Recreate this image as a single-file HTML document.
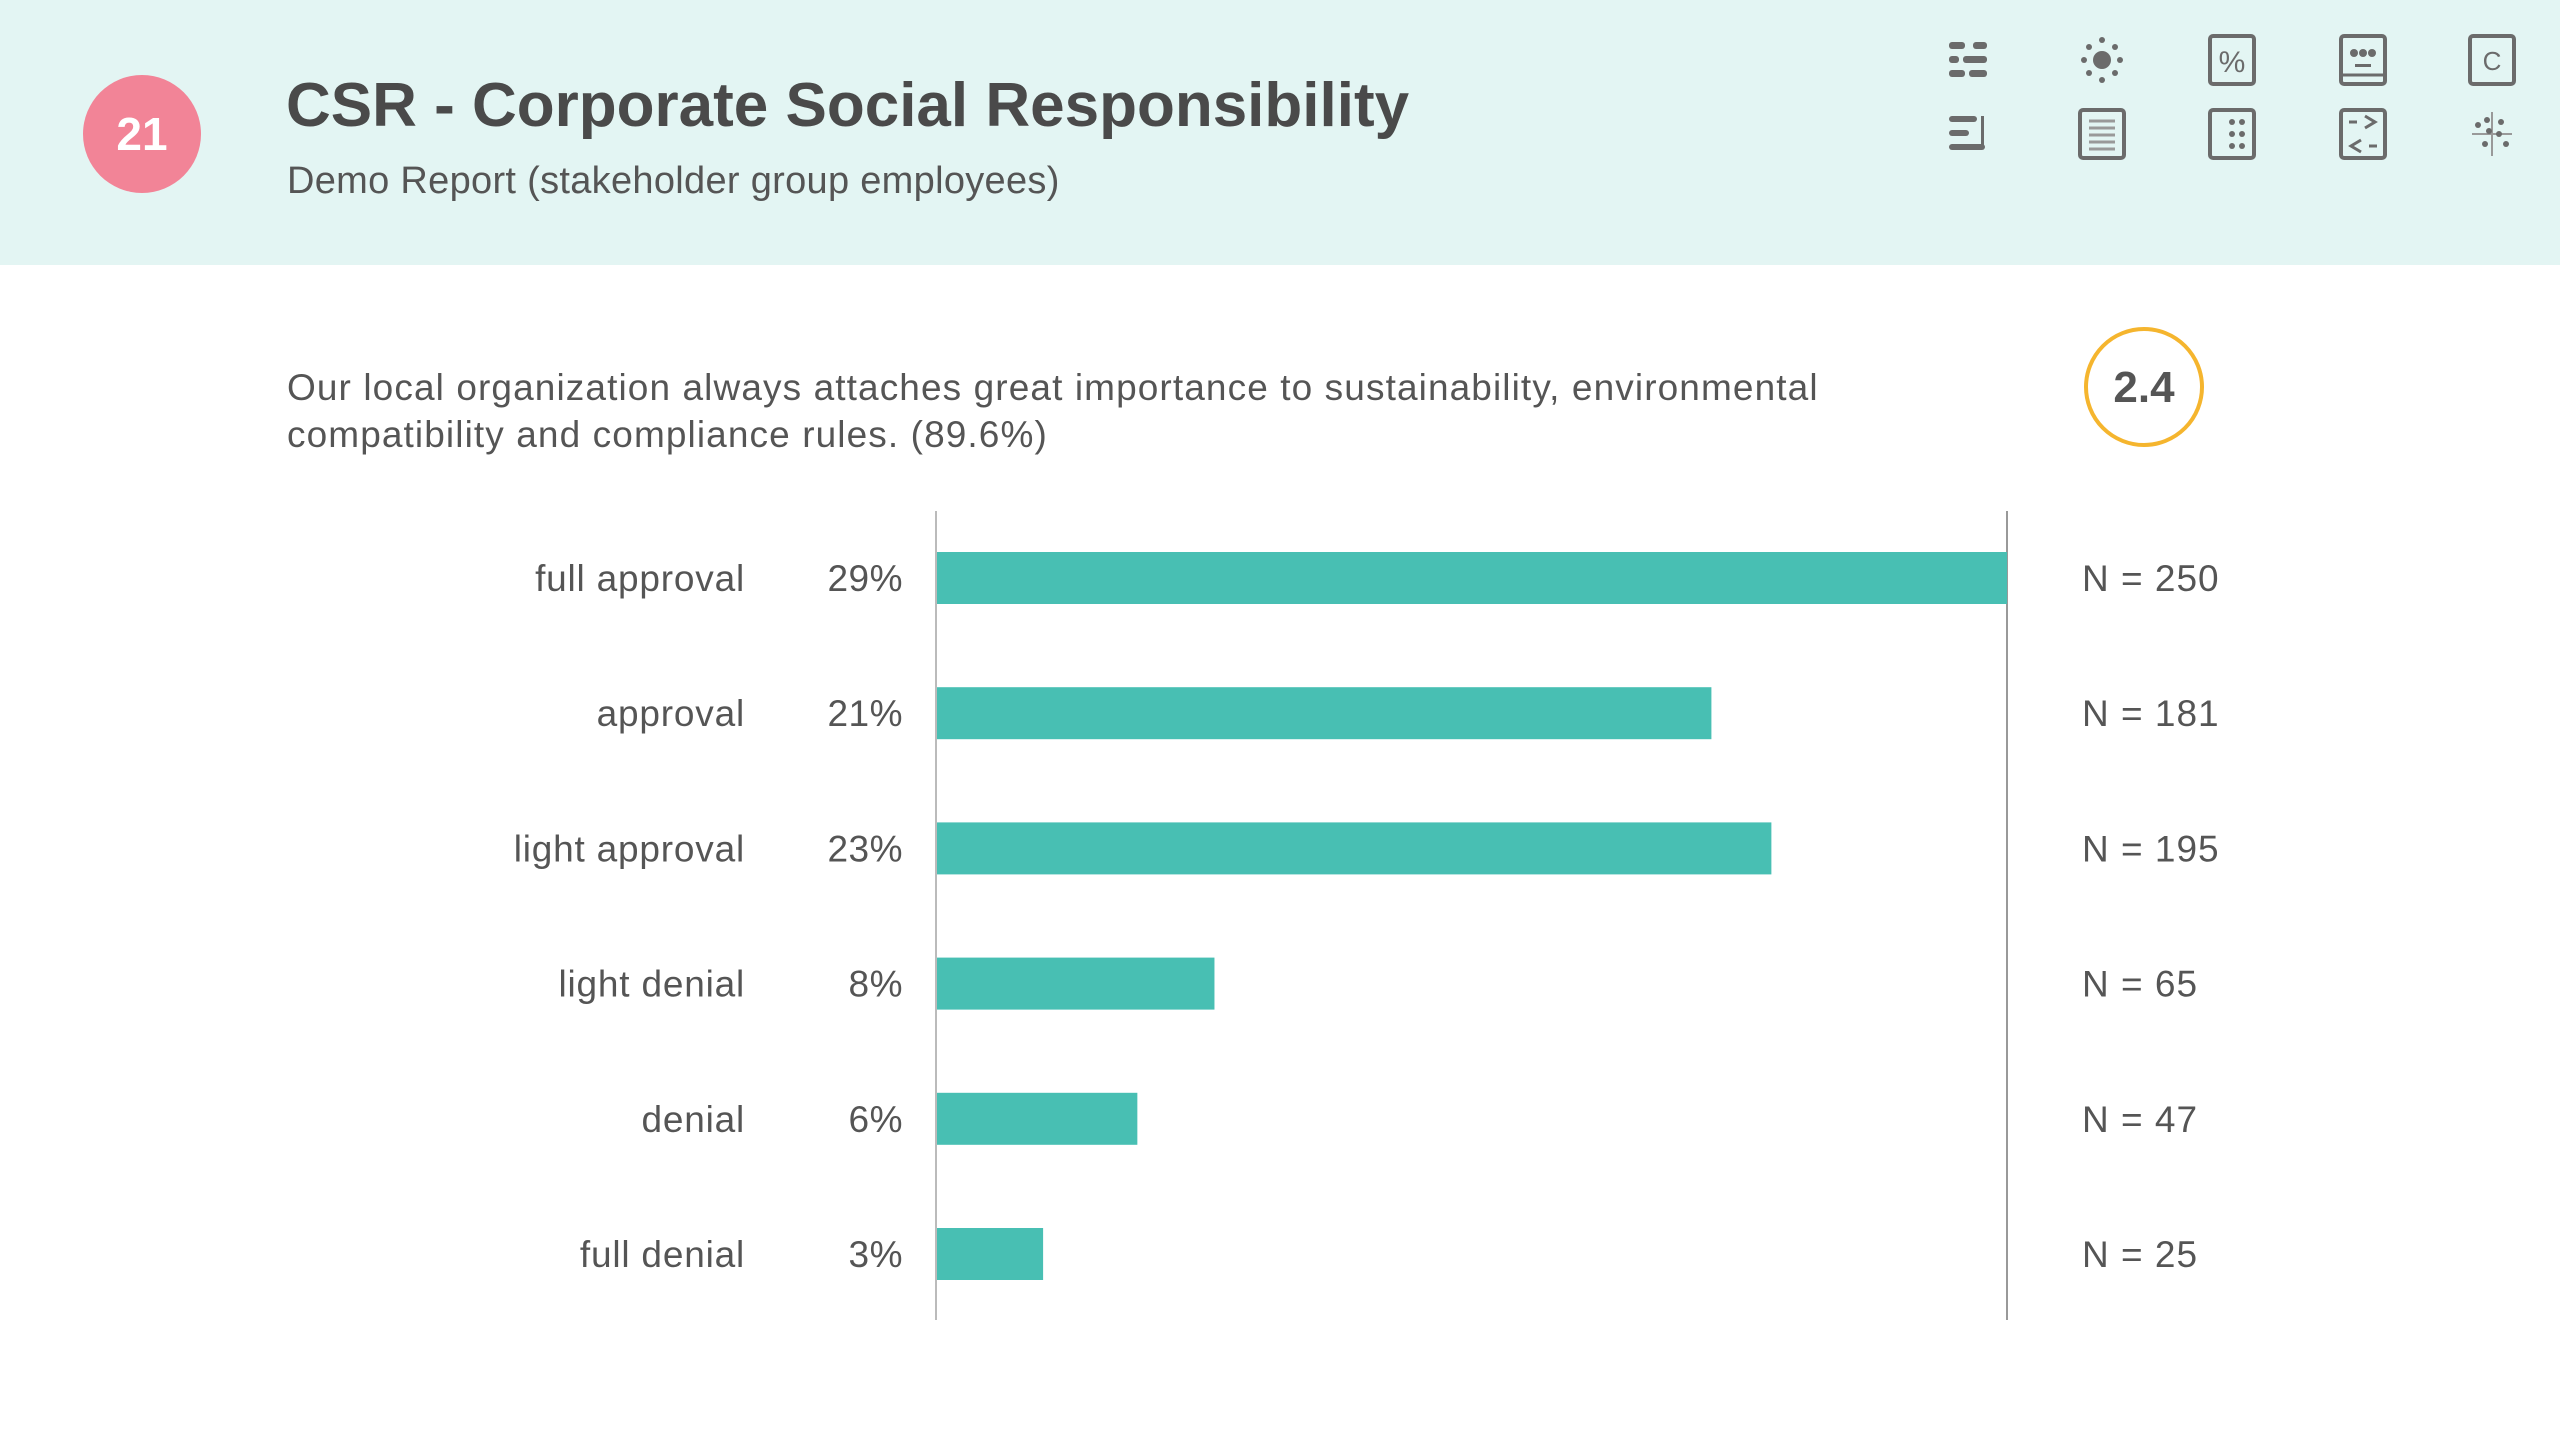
<!DOCTYPE html>
<html><head><meta charset="utf-8"><style>
body{margin:0;width:2560px;height:1440px;background:#fff;font-family:"Liberation Sans",sans-serif;overflow:hidden;position:relative;color:#555}
.hdr{position:absolute;left:0;top:0;width:2560px;height:265px;background:#e3f5f3}
.t{position:absolute;white-space:nowrap}
</style></head><body>
<div class="hdr"></div>
<div class="t" style="left:83px;top:75px;width:118px;height:118px;border-radius:50%;background:#f28497;color:#fff;font-size:46px;line-height:118px;text-align:center;font-weight:bold">21</div>
<div class="t" style="left:286px;top:70px;font-size:62px;font-weight:bold;color:#4a4a4a;letter-spacing:0px">CSR - Corporate Social Responsibility</div>
<div class="t" style="left:287px;top:160px;font-size:38px;color:#555;letter-spacing:0.3px">Demo Report (stakeholder group employees)</div>
<svg style="position:absolute;left:0;top:0" width="2560" height="265">
<g fill="#6b6b6b" stroke="#6b6b6b">
<g transform="translate(1971,60)" stroke="none"><rect x="-22" y="-18" width="16" height="7" rx="3"/><rect x="2" y="-18" width="14" height="7" rx="3"/><rect x="-22" y="-4" width="10" height="7" rx="3"/><rect x="-8" y="-4" width="24" height="7" rx="3"/><rect x="-22" y="10" width="16" height="7" rx="3"/><rect x="-2" y="10" width="18" height="7" rx="3"/></g>
<g transform="translate(2102,60)" stroke="none"><circle r="9"/><circle cx="0" cy="-20" r="3"/><circle cx="0" cy="20" r="3"/><circle cx="-18" cy="0" r="3"/><circle cx="18" cy="0" r="3"/><circle cx="-13" cy="-13" r="3"/><circle cx="13" cy="-13" r="3"/><circle cx="-13" cy="13" r="3"/><circle cx="13" cy="13" r="3"/></g>
<g transform="translate(2232,60)"><rect x="-22" y="-24" width="44" height="48" rx="3" fill="none" stroke-width="4"/><text x="0" y="12" font-size="30" text-anchor="middle" stroke="none" font-family="Liberation Sans">%</text></g>
<g transform="translate(2363,60)"><rect x="-22" y="-24" width="44" height="48" rx="3" fill="none" stroke-width="4"/><circle cx="-9" cy="-7" r="4" stroke="none"/><circle cx="0" cy="-7" r="4" stroke="none"/><circle cx="9" cy="-7" r="4" stroke="none"/><rect x="-8" y="4" width="16" height="3" stroke="none"/><line x1="-22" y1="15" x2="22" y2="15" stroke-width="3"/></g>
<g transform="translate(2492,60)"><rect x="-22" y="-24" width="44" height="48" rx="3" fill="none" stroke-width="4"/><text x="0" y="10" font-size="26" text-anchor="middle" stroke="none" font-family="Liberation Sans">C</text></g>
<g transform="translate(1971,134)" stroke="none"><rect x="-22" y="-18" width="28" height="6" rx="3"/><rect x="-22" y="-4" width="20" height="6" rx="3"/><rect x="-22" y="10" width="36" height="6" rx="3"/><rect x="10" y="-18" width="3" height="30"/></g>
<g transform="translate(2102,134)"><rect x="-22" y="-24" width="44" height="48" rx="3" fill="none" stroke-width="4"/><g stroke="#999" stroke-width="3"><line x1="-13" y1="-13" x2="13" y2="-13"/><line x1="-13" y1="-6" x2="13" y2="-6"/><line x1="-13" y1="1" x2="13" y2="1"/><line x1="-13" y1="8" x2="13" y2="8"/><line x1="-13" y1="15" x2="13" y2="15"/></g></g>
<g transform="translate(2232,134)"><rect x="-22" y="-24" width="44" height="48" rx="3" fill="none" stroke-width="4"/><circle cx="0" cy="-12" r="3" stroke="none"/><circle cx="10" cy="-12" r="3" stroke="none"/><circle cx="0" cy="0" r="3" stroke="none"/><circle cx="10" cy="0" r="3" stroke="none"/><circle cx="0" cy="12" r="3" stroke="none"/><circle cx="10" cy="12" r="3" stroke="none"/></g>
<g transform="translate(2363,134)"><rect x="-22" y="-24" width="44" height="48" rx="3" fill="none" stroke-width="4"/><path d="M-14 -12h8 M2 -18l10 6-10 6 M14 12h-8 M-2 6l-10 6 10 6" fill="none" stroke-width="3"/></g>
<g transform="translate(2492,134)"><line x1="0" y1="-22" x2="0" y2="22" stroke="#999" stroke-width="2"/><line x1="-20" y1="0" x2="20" y2="0" stroke="#999" stroke-width="2"/><g stroke="none"><circle cx="-14" cy="-9" r="3"/><circle cx="-5" cy="-14" r="3"/><circle cx="9" cy="-12" r="3"/><circle cx="-3" cy="-3" r="3"/><circle cx="7" cy="0" r="3"/><circle cx="-7" cy="10" r="3"/><circle cx="14" cy="10" r="3"/></g></g>
</g></svg>
<div class="t" style="left:287px;top:364px;font-size:37px;line-height:47px;color:#555;letter-spacing:1.1px">Our local organization always attaches great importance to sustainability, environmental<br>compatibility and compliance rules. (89.6%)</div>
<div class="t" style="left:2084px;top:327px;width:120px;height:120px;border:4px solid #f5b52e;border-radius:50%;box-sizing:border-box;text-align:center;line-height:114px;font-size:44px;font-weight:bold;color:#555">2.4</div>
<svg id="chart" style="position:absolute;left:0;top:0" width="2560" height="1440"></svg>
<script>
const categories=["full approval","approval","light approval","light denial","denial","full denial"];
const percents=["29%","21%","23%","8%","6%","3%"];
const counts=[250,181,195,65,47,25];
const ns=document.getElementById('chart'),S='http://www.w3.org/2000/svg';
const x0=936,x1=2007,maxV=250,y0=578,step=135.2,barH=52;
const xs=v=>x0+(v/maxV)*(x1-x0);
const ys=i=>y0+i*step;
function mk(t,a){const e=document.createElementNS(S,t);for(const k in a)e.setAttribute(k,a[k]);ns.appendChild(e);return e;}
let l=mk('line',{x1:x0,y1:511,x2:x0,y2:1320,stroke:'#bbb','stroke-width':2});


l=mk('line',{x1:x1,y1:511,x2:x1,y2:1320,stroke:'#999','stroke-width':2});


categories.forEach((c,i)=>{
 const y=ys(i);
 const r=mk('rect',{x:x0+1,y:y-barH/2,width:xs(counts[i])-x0-1,height:barH,fill:'#48bfb3'});
 
 
 const tl=mk('text',{x:745,y:y+13,'text-anchor':'end','font-size':37,fill:'#555','font-family':'Liberation Sans','letter-spacing':'0.8'});tl.textContent=c;
 
 
 const tp=mk('text',{x:903,y:y+13,'text-anchor':'end','font-size':37,fill:'#555','font-family':'Liberation Sans','letter-spacing':'0.5'});tp.textContent=percents[i];
 
 
 const tn=mk('text',{x:2082,y:y+13,'font-size':37,fill:'#555','font-family':'Liberation Sans','letter-spacing':'1'});tn.textContent='N = '+counts[i];
 
 
});
</script>
</body></html>
